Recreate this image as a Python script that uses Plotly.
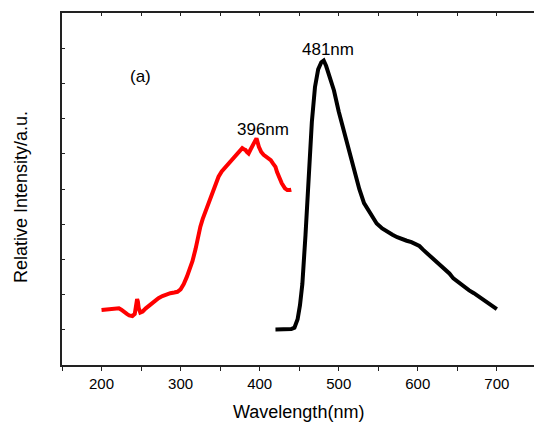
import plotly.graph_objects as go

# Excitation spectrum (red)
ex_wl = [200, 205, 211, 217, 222, 225, 228, 232, 235, 239, 242, 244, 245, 246, 247, 249,
         252, 256, 261, 266, 272, 277, 282, 287, 292, 296, 300, 304, 308, 312, 315, 319,
         322, 325, 328, 332, 336, 340, 344, 348, 352, 357, 361, 365, 368, 372, 375, 378,
         380, 382, 384, 386, 388, 390, 393, 396, 399, 402, 405, 409, 414, 417, 420, 422,
         424, 428, 432, 435, 438, 440]
ex_int = [1.56, 1.57, 1.58, 1.59, 1.61, 1.57, 1.51, 1.45, 1.41, 1.39, 1.45, 1.70, 1.87, 1.80, 1.62, 1.49,
          1.52, 1.61, 1.70, 1.80, 1.90, 1.96, 2.01, 2.04, 2.06, 2.08, 2.15, 2.30, 2.51, 2.75, 2.95, 3.30,
          3.65, 3.93, 4.15, 4.40, 4.65, 4.88, 5.10, 5.35, 5.50, 5.63, 5.73, 5.82, 5.90, 6.01, 6.10, 6.16,
          6.13, 6.11, 6.05, 6.01, 6.10, 6.20, 6.33, 6.44, 6.20, 6.05, 5.97, 5.90, 5.82, 5.72, 5.63, 5.48,
          5.35, 5.16, 5.02, 4.97, 4.97, 4.98]

# Emission spectrum (black)
em_wl = [420, 430, 440, 444, 448, 451, 454, 458, 462, 466, 470, 474, 478, 481, 484, 488,
         494, 500, 507, 514, 520, 526, 532, 540, 548, 555, 561, 568, 574, 580, 586, 592,
         597, 602, 607, 613, 620, 627, 633, 640, 645, 652, 658, 665, 671, 677, 683, 690,
         698, 700]
em_int = [1.01, 1.01, 1.02, 1.06, 1.30, 1.70, 2.30, 3.70, 5.50, 6.90, 7.90, 8.40, 8.60, 8.65, 8.50, 8.20,
          7.80, 7.20, 6.60, 5.95, 5.45, 5.00, 4.60, 4.30, 4.02, 3.88, 3.79, 3.70, 3.63, 3.57, 3.53, 3.49,
          3.45, 3.38, 3.27, 3.15, 3.03, 2.89, 2.75, 2.60, 2.46, 2.33, 2.22, 2.12, 2.04, 1.94, 1.85, 1.73,
          1.61, 1.59]

x_tickvals = [150, 200, 250, 300, 350, 400, 450, 500, 550, 600, 650, 700, 750]
x_ticktext = ["", "200", "", "300", "", "400", "", "500", "", "600", "", "700", ""]
y_tickvals = [0, 1, 2, 3, 4, 5, 6, 7, 8, 9, 10]

FONT = "Liberation Sans, Arial, sans-serif"

fig = go.Figure()
fig.add_trace(go.Scatter(x=ex_wl, y=ex_int, mode="lines",
                         line=dict(color="#ff0000", width=4), showlegend=False))
fig.add_trace(go.Scatter(x=em_wl, y=em_int, mode="lines",
                         line=dict(color="#000000", width=4), showlegend=False))
# invisible trace to activate the top axis
fig.add_trace(go.Scatter(x=[150], y=[None], xaxis="x2", showlegend=False, hoverinfo="skip"))

fig.update_layout(
    width=534, height=425,
    margin=dict(l=62, r=0, t=13, b=60),
    paper_bgcolor="white", plot_bgcolor="white",
    font=dict(family=FONT, color="#000000"),
    xaxis=dict(range=[150, 747], tickvals=x_tickvals, ticktext=x_ticktext,
               ticks="outside", ticklen=4, tickwidth=1.2, tickcolor="#222",
               showline=True, linecolor="#222", linewidth=1.5,
               showgrid=False, zeroline=False, automargin=False,
               tickfont=dict(size=15, family=FONT)),
    xaxis2=dict(range=[150, 747], overlaying="x", side="top", tickvals=x_tickvals,
                showticklabels=False, ticks="inside", ticklen=3, tickwidth=1.2, tickcolor="#222",
                showline=True, linecolor="#222", linewidth=1.5, showgrid=False, zeroline=False,
                automargin=False),
    yaxis=dict(range=[0, 10], tickvals=y_tickvals, showticklabels=False,
               ticks="inside", ticklen=3, tickwidth=1.2, tickcolor="#222",
               showline=True, linecolor="#222", linewidth=1.5,
               showgrid=False, zeroline=False, automargin=False),
)

# axis titles
fig.add_annotation(xref="paper", yref="paper", x=0.502, y=-0.1335, text="Wavelength(nm)",
                   xanchor="center", yanchor="middle",
                   showarrow=False, font=dict(size=18, family=FONT, color="#000"))
fig.add_annotation(xref="paper", yref="paper", x=-0.0869, y=0.477, text="Relative Intensity/a.u.",
                   xanchor="center", yanchor="middle",
                   textangle=-90, showarrow=False, font=dict(size=18, family=FONT, color="#000"))

# peak labels
fig.add_annotation(x=403.6, y=6.68, text="396nm", showarrow=False,
                   xanchor="center", yanchor="middle",
                   font=dict(size=17, family=FONT, color="#000"))
fig.add_annotation(x=487, y=8.95, text="481nm", showarrow=False,
                   xanchor="center", yanchor="middle",
                   font=dict(size=17, family=FONT, color="#000"))
fig.add_annotation(x=249, y=8.2, text="(a)", showarrow=False,
                   xanchor="center", yanchor="middle",
                   font=dict(size=17, family=FONT, color="#000"))

fig.write_html("out.html", config={"displayModeBar": False},
               post_script="document.body.style.margin='0';document.body.style.overflow='hidden';")
